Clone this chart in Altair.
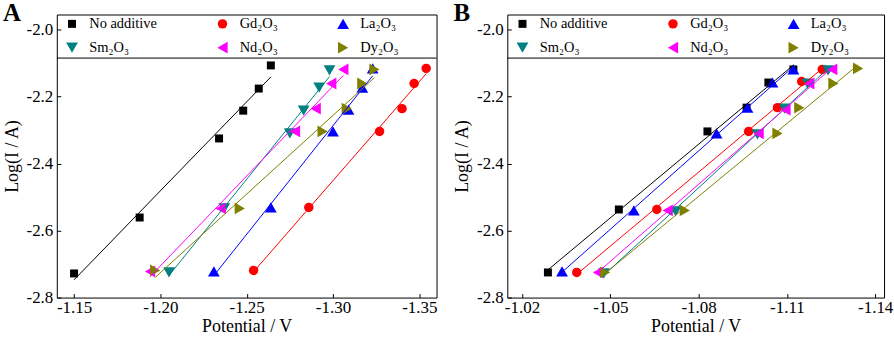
import altair as alt
import pandas as pd

# ---------------- data ----------------
SERIES = ["No additive", "Gd₂O₃", "La₂O₃", "Sm₂O₃", "Nd₂O₃", "Dy₂O₃"]
COLORS = ["#000000", "#ff0000", "#0000ff", "#008080", "#ff00ff", "#808000"]
SHAPES = ["square", "circle", "triangle-up", "triangle-down", "triangle-left", "triangle-right"]
SIZES = [64, 90, 140, 140, 140, 140]

# Panel A
A_X_NONE = [-1.150, -1.188, -1.234, -1.248, -1.257, -1.264]
A_Y_NONE = [-2.728, -2.561, -2.325, -2.242, -2.176, -2.107]
A_X_GD = [-1.254, -1.286, -1.327, -1.340, -1.347, -1.354]
A_Y_GD = [-2.719, -2.531, -2.304, -2.236, -2.161, -2.116]
A_X_LA = [-1.231, -1.264, -1.300, -1.309, -1.317, -1.323]
A_Y_LA = [-2.722, -2.531, -2.304, -2.239, -2.173, -2.116]
A_X_SM = [-1.205, -1.237, -1.275, -1.283, -1.292, -1.298]
A_Y_SM = [-2.725, -2.534, -2.310, -2.242, -2.173, -2.122]
A_X_ND = [-1.194, -1.235, -1.278, -1.290, -1.299, -1.306]
A_Y_ND = [-2.722, -2.534, -2.304, -2.236, -2.161, -2.119]
A_X_DY = [-1.197, -1.246, -1.294, -1.308, -1.317, -1.324]
A_Y_DY = [-2.719, -2.534, -2.304, -2.236, -2.161, -2.119]

# Panel B
B_X_NONE = [-1.0288, -1.0529, -1.0830, -1.0963, -1.1037, -1.1122]
B_Y_NONE = [-2.725, -2.537, -2.304, -2.233, -2.158, -2.119]
B_X_GD = [-1.0386, -1.0658, -1.0970, -1.1068, -1.1150, -1.1220]
B_Y_GD = [-2.725, -2.537, -2.304, -2.233, -2.155, -2.119]
B_X_LA = [-1.0336, -1.0580, -1.0861, -1.0966, -1.1051, -1.1122]
B_Y_LA = [-2.722, -2.540, -2.310, -2.233, -2.158, -2.119]
B_X_SM = [-1.0478, -1.0722, -1.1000, -1.1092, -1.1170, -1.1240]
B_Y_SM = [-2.728, -2.543, -2.313, -2.236, -2.161, -2.122]
B_X_ND = [-1.0458, -1.0695, -1.1004, -1.1095, -1.1176, -1.1254]
B_Y_ND = [-2.725, -2.540, -2.310, -2.239, -2.161, -2.119]
B_X_DY = [-1.0482, -1.0753, -1.1068, -1.1142, -1.1258, -1.1342]
B_Y_DY = [-2.725, -2.540, -2.310, -2.233, -2.161, -2.116]

A_X_TICKS = [-1.15, -1.20, -1.25, -1.30, -1.35]
B_X_TICKS = [-1.02, -1.05, -1.08, -1.11, -1.14]
Y_TICKS = [-2.8, -2.6, -2.4, -2.2, -2.0]
A_X_DOMAIN = [-1.36, -1.14]
B_X_DOMAIN = [-1.143, -1.015]
Y_DOMAIN = [-2.8, -1.955]
LEGEND_FLOOR = -2.085

FONT = "Liberation Serif"


def frame(xs, ys):
    rows = []
    for name, xv, yv in zip(SERIES, xs, ys):
        for a, b in zip(xv, yv):
            rows.append({"series": name, "x": a, "y": b})
    return pd.DataFrame(rows)


dfA = frame([A_X_NONE, A_X_GD, A_X_LA, A_X_SM, A_X_ND, A_X_DY],
            [A_Y_NONE, A_Y_GD, A_Y_LA, A_Y_SM, A_Y_ND, A_Y_DY])
dfB = frame([B_X_NONE, B_X_GD, B_X_LA, B_X_SM, B_X_ND, B_X_DY],
            [B_Y_NONE, B_Y_GD, B_Y_LA, B_Y_SM, B_Y_ND, B_Y_DY])

PAD = "\u00a0" * 8
LABEL_EXPR = ("(datum.label == 'Gd₂O₃' || datum.label == 'Nd₂O₃') ? datum.label + '"
              + PAD + "' : datum.label")


def panel(df, xdom, xticks, letter, width, height, legend_x):
    x = alt.X("x:Q",
              scale=alt.Scale(domain=xdom, reverse=True, nice=False, zero=False),
              axis=alt.Axis(values=xticks, format=".2f", title="Potential / V",
                            labelExpr="replace(datum.label, '\u2212', '-')"))
    y = alt.Y("y:Q",
              scale=alt.Scale(domain=Y_DOMAIN, nice=False, zero=False),
              axis=alt.Axis(values=Y_TICKS, format=".1f", title="Log(I / A)",
                            labelExpr="replace(datum.label, '\u2212', '-')"))
    leg = alt.Legend(orient="none", legendX=legend_x, legendY=2, columns=3, title=None,
                     direction="horizontal", gridAlign="each",
                     labelFont=FONT, labelFontSize=14.5, labelColor="black",
                     labelOffset=10, columnPadding=58, rowPadding=9, padding=0,
                     symbolStrokeWidth=0, symbolOpacity=1, labelExpr=LABEL_EXPR)
    cscale = alt.Scale(domain=SERIES, range=COLORS)
    floor = alt.Chart(pd.DataFrame({"y": [LEGEND_FLOOR]})).mark_rule(
        color="black", strokeWidth=1).encode(y=alt.Y("y:Q"))
    pts = alt.Chart(df).mark_point(filled=True, opacity=1, strokeWidth=0).encode(
        x=x, y=y,
        color=alt.Color("series:N", scale=cscale, legend=leg),
        shape=alt.Shape("series:N", scale=alt.Scale(domain=SERIES, range=SHAPES), legend=leg),
        size=alt.Size("series:N", scale=alt.Scale(type="ordinal", domain=SERIES, range=SIZES), legend=leg),
    )
    lines = alt.Chart(df).transform_regression(
        "x", "y", groupby=["series"]).mark_line(strokeWidth=1, clip=True).encode(
        x=x, y=y, color=alt.Color("series:N", scale=cscale, legend=leg))
    return alt.layer(pts, lines, floor).properties(
        width=width, height=height,
        title=alt.TitleParams(letter, anchor="start", frame="bounds", font=FONT,
                              fontSize=25, fontWeight="bold", color="black",
                              baseline="alphabetic", offset=-32),
    )


pA = panel(dfA, A_X_DOMAIN, A_X_TICKS, "A", 381, 284, 8)
pB = panel(dfB, B_X_DOMAIN, B_X_TICKS, "B", 378, 284, 8)

chart = alt.hconcat(pA, pB, spacing=15).resolve_scale(
    color="independent", shape="independent", size="independent", x="independent"
).properties(
    padding={"left": 2, "top": 0, "right": 0, "bottom": 0}
).configure_view(stroke="black", strokeWidth=1).configure_axis(
    labelFont=FONT, labelFontSize=17, labelColor="black",
    titleFont=FONT, titleFontSize=18, titleFontWeight="normal", titleColor="black",
    tickColor="black", tickSize=4, tickWidth=1, offset=-4, domain=False, grid=False,
    labelFlush=False,
).configure_axisX(labelPadding=2, titlePadding=2).configure_axisY(
    labelPadding=4, titlePadding=5).configure_legend(
    labelFont=FONT, labelFontSize=14.5, labelColor="black")

chart.save("out.html", embed_options={"renderer": "svg", "actions": False})
